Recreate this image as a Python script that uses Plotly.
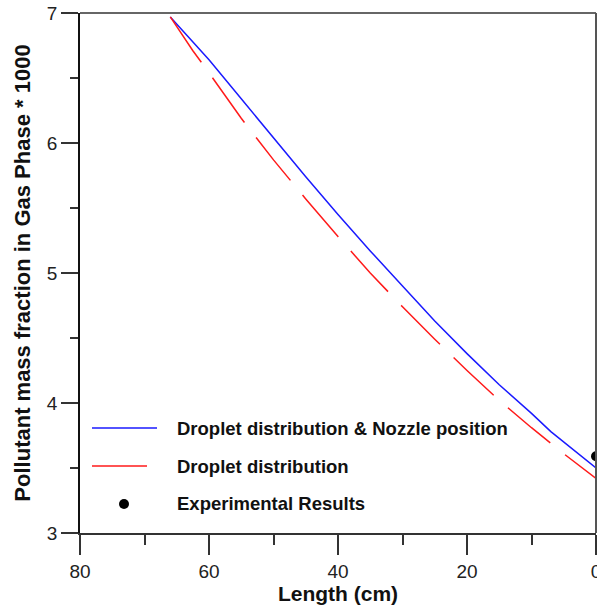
import plotly.graph_objects as go

# Pollutant mass fraction (x1000) along the column length
length_nozzle = [66, 60, 55, 50, 45, 40, 35, 30, 25, 20, 15, 10, 7, 0]
frac_nozzle = [6.97, 6.64, 6.34, 6.04, 5.74, 5.45, 5.17, 4.90, 4.63, 4.38, 4.14, 3.92, 3.78, 3.50]

length_droplet = [66, 62.5, 60, 55, 50, 45, 40, 35, 30, 25, 20, 15, 10, 5, 0]
frac_droplet = [6.97, 6.71, 6.54, 6.19, 5.87, 5.57, 5.28, 5.00, 4.74, 4.49, 4.25, 4.02, 3.81, 3.61, 3.42]

length_exp = [0]
frac_exp = [3.59]

legend_labels = ["Droplet distribution & Nozzle position", "Droplet distribution", "Experimental Results"]

BLUE = "#1a1aff"
RED = "#ff1a1a"
DASH = "55px,19px"
FONT = "Liberation Sans, Arial, sans-serif"

fig = go.Figure()
fig.add_trace(go.Scatter(x=length_nozzle, y=frac_nozzle, mode="lines",
                         line=dict(color=BLUE, width=1.5), showlegend=False))
fig.add_trace(go.Scatter(x=length_droplet, y=frac_droplet, mode="lines",
                         line=dict(color=RED, width=1.5, dash=DASH), showlegend=False))
fig.add_trace(go.Scatter(x=length_exp, y=frac_exp, mode="markers",
                         marker=dict(color="black", size=10), cliponaxis=False,
                         showlegend=False))

# plot-area geometry (pixels) used to place the hand-built legend
W, H = 597, 607
ML, MR, MT, MB = 80, 1, 13, 74
PW, PH = W - ML - MR, H - MT - MB


def px_x(px):
    return (px - ML) / PW


def px_y(py):
    return (H - MB - py) / PH


shapes = [
    # frame on top and right
    dict(type="line", xref="paper", yref="paper", x0=0, x1=1, y0=1, y1=1,
         line=dict(color="#666666", width=2)),
    dict(type="line", xref="paper", yref="paper", x0=1, x1=1, y0=0, y1=1,
         line=dict(color="#555555", width=2)),
    # legend samples
    dict(type="line", xref="paper", yref="paper", x0=px_x(92), x1=px_x(157),
         y0=px_y(428), y1=px_y(428), line=dict(color=BLUE, width=1.5)),
    dict(type="line", xref="paper", yref="paper", x0=px_x(92), x1=px_x(157),
         y0=px_y(466), y1=px_y(466), line=dict(color=RED, width=1.5, dash=DASH)),
    dict(type="circle", xref="paper", yref="paper", xsizemode="pixel", ysizemode="pixel",
         xanchor=px_x(124), yanchor=px_y(504), x0=-5, x1=5, y0=-5, y1=5,
         fillcolor="black", line=dict(color="black", width=0)),
]

annotations = []
for label, py in zip(legend_labels, [428, 466, 503]):
    annotations.append(dict(text="<b>%s</b>" % label, xref="paper", yref="paper",
                            x=px_x(175), y=px_y(py), xanchor="left", yanchor="middle",
                            showarrow=False, font=dict(family=FONT, size=18.5, color="#111111")))

fig.update_layout(
    width=W, height=H,
    margin=dict(l=ML, r=MR, t=MT, b=MB, pad=0, autoexpand=False),
    paper_bgcolor="white", plot_bgcolor="white",
    font=dict(family=FONT, color="#222222"),
    shapes=shapes, annotations=annotations,
    xaxis=dict(
        range=[80, 0], tickmode="array", tickvals=[80, 60, 40, 20, 0],
        ticktext=["80", "60", "40", "20", "0"], automargin=False,
        showgrid=False, zeroline=False, ticklabeloverflow="allow",
        showline=True, linecolor="#333333", linewidth=1.5,
        ticks="outside", ticklen=20, tickwidth=1.5, tickcolor="#333333",
        tickfont=dict(size=19, color="#222222"),
        minor=dict(tickvals=[70, 50, 30, 10], ticks="outside", ticklen=10,
                   tickwidth=1.5, tickcolor="#333333", showgrid=False),
        title=dict(text="<b>Length (cm)</b>", font=dict(size=21, color="#111111"), standoff=4),
    ),
    yaxis=dict(
        range=[3, 7], tickmode="array", tickvals=[3, 4, 5, 6, 7], automargin=False,
        showgrid=False, zeroline=False, ticklabeloverflow="allow",
        showline=True, linecolor="#111111", linewidth=1.5,
        ticks="outside", ticklen=17, tickwidth=1.5, tickcolor="#333333",
        tickfont=dict(size=19, color="#222222"),
        minor=dict(tickvals=[3.5, 4.5, 5.5, 6.5], ticks="outside", ticklen=8,
                   tickwidth=1.5, tickcolor="#333333", showgrid=False),
        title=dict(text="<b>Pollutant mass fraction in Gas Phase * 1000</b>",
                   font=dict(size=22, color="#111111"), standoff=10),
    ),
)

fig.write_html("out.html")
